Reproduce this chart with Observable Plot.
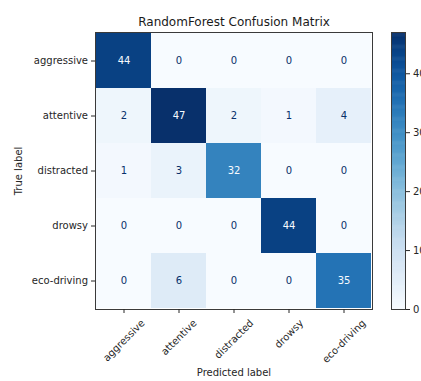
<!DOCTYPE html>
<html>
<head>
<meta charset="utf-8">
<script src="https://cdn.jsdelivr.net/npm/d3@7"></script>
<script src="https://cdn.jsdelivr.net/npm/@observablehq/plot@0.6"></script>
<style>
  html, body { margin: 0; padding: 0; background: #fff; }
  #wrap { position: relative; width: 421px; height: 381px; overflow: hidden; }
  #wrap svg { position: absolute; left: 0; top: 0; overflow: hidden; }
</style>
</head>
<body>
<div id="wrap"></div>
<script>
const classes = ["aggressive", "attentive", "distracted", "drowsy", "eco-driving"];
const rowAggressive = [44, 0, 0, 0, 0];
const rowAttentive = [2, 47, 2, 1, 4];
const rowDistracted = [1, 3, 32, 0, 0];
const rowDrowsy = [0, 0, 0, 44, 0];
const rowEcoDriving = [0, 6, 0, 0, 35];
const colorTicks = [0, 10, 20, 30, 40];
const title = "RandomForest Confusion Matrix";

const rows = [rowAggressive, rowAttentive, rowDistracted, rowDrowsy, rowEcoDriving];
const cells = [];
rows.forEach((r, i) => r.forEach((v, j) => cells.push({t: classes[i], p: classes[j], v})));
const vmin = d3.min(cells, d => d.v), vmax = d3.max(cells, d => d.v);
const thresh = (vmin + vmax) / 2;

const font = "DejaVu Sans";
const ink = "#262626";
const W = 421, H = 381;
const mL = 95, mR = 49, mT = 32, mB = 72;

const ctx = document.createElement("canvas").getContext("2d");
ctx.font = `10px "${font}"`;
const xLabelMarks = classes.map(c => {
  const w = ctx.measureText(c).width;
  const bh = (w + 11) * Math.SQRT1_2;
  return Plot.text([c], {
    x: d => d, frameAnchor: "bottom", dy: 8 + bh / 2,
    rotate: -45, textAnchor: "middle", lineAnchor: "middle",
    fontSize: 10, fill: ink
  });
});

const colorOpts = {type: "linear", scheme: "blues", domain: [vmin, vmax]};

const main = Plot.plot({
  width: W, height: H,
  marginLeft: mL, marginRight: mR, marginTop: mT, marginBottom: mB,
  style: {fontFamily: font, fontSize: "10px", color: ink, background: "transparent"},
  x: {domain: classes, padding: 0, axis: null},
  y: {domain: classes, padding: 0, axis: null},
  color: colorOpts,
  marks: [
    Plot.cell(cells, {x: "p", y: "t", fill: "v", inset: 0}),
    Plot.text(cells.filter(d => d.v > thresh), {x: "p", y: "t", text: d => String(d.v), fill: "#f7fbff", fontSize: 10}),
    Plot.text(cells.filter(d => d.v <= thresh), {x: "p", y: "t", text: d => String(d.v), fill: "#08306b", fontSize: 10}),
    Plot.frame({stroke: "#3a3a3a", strokeWidth: 1}),
    Plot.axisY({tickSize: 4, tickPadding: 3.5, label: null, fontSize: 10, stroke: ink, fill: ink}),
    Plot.axisX({tickSize: 4, label: null, tickFormat: () => "", stroke: ink}),
    ...xLabelMarks,
    Plot.text(["True label"], {frameAnchor: "left", dx: -77, rotate: -90, textAnchor: "middle", lineAnchor: "middle", fontSize: 10, fill: ink}),
    Plot.text(["Predicted label"], {frameAnchor: "bottom", dy: 63, textAnchor: "middle", lineAnchor: "middle", fontSize: 10, fill: ink}),
    Plot.text([title], {frameAnchor: "top", dy: -10, textAnchor: "middle", lineAnchor: "middle", fontSize: 12, fill: "#1a1a1a"})
  ]
});

const step = (vmax - vmin) / 300;
const stops = d3.range(vmin, vmax, step);
const bar = Plot.plot({
  width: W, height: H,
  marginLeft: 391, marginRight: W - 405, marginTop: mT, marginBottom: mB,
  style: {fontFamily: font, fontSize: "10px", color: ink, background: "transparent"},
  y: {domain: [vmin, vmax]},
  color: colorOpts,
  marks: [
    Plot.rect(stops, {y1: d => d, y2: d => Math.min(vmax, d + step * 1.6), fill: d => d + step / 2}),
    Plot.frame({stroke: "#3a3a3a", strokeWidth: 1}),
    Plot.axisY({anchor: "right", ticks: colorTicks, tickFormat: d => String(d), tickSize: 4, tickPadding: 3.5, label: null, fontSize: 10, stroke: ink, fill: ink})
  ]
});

const wrap = document.getElementById("wrap");
wrap.appendChild(main);
wrap.appendChild(bar);
</script>
</body>
</html>
